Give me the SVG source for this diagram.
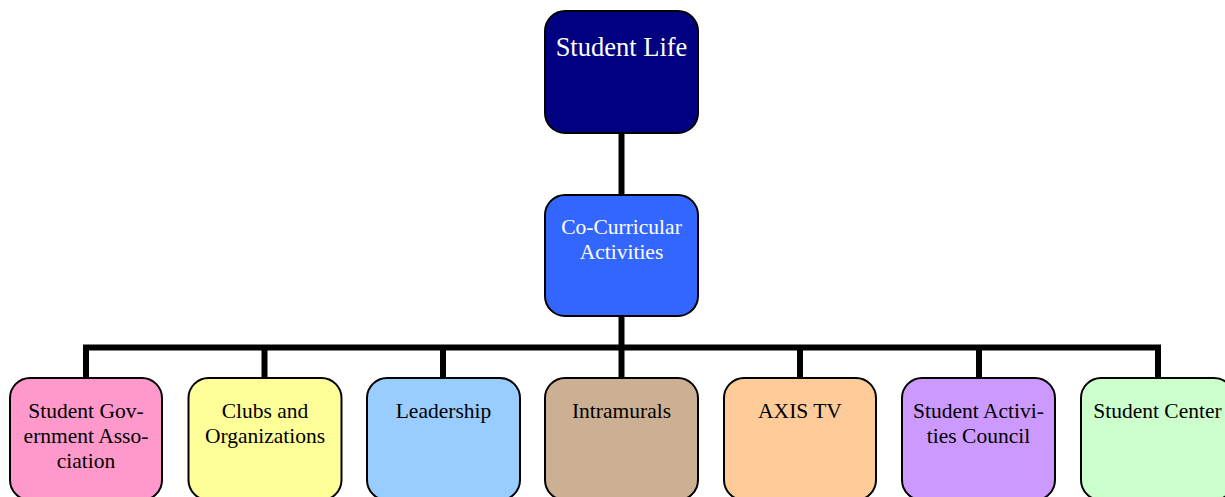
<svg xmlns="http://www.w3.org/2000/svg" width="1225" height="497" viewBox="0 0 1225 497">
<style>
.box{stroke:#000;stroke-width:2}
.t{font-family:"Liberation Serif","Times New Roman",serif;font-size:21.5px;text-anchor:middle;fill:#000}
.w{fill:#fff}
.big{font-size:26.5px}
.conn{stroke:#000;stroke-width:6;fill:none}
</style>
<rect width="1225" height="497" fill="#fff"/>
<g id="connectors">
<line class="conn" x1="621.5" y1="133" x2="621.5" y2="195"/>
<line class="conn" x1="621.5" y1="316" x2="621.5" y2="378"/>
<polyline class="conn" points="86,378 86,347.5 1158,347.5 1158,378"/>
<line class="conn" x1="264.5" y1="347" x2="264.5" y2="378"/>
<line class="conn" x1="443" y1="347" x2="443" y2="378"/>
<line class="conn" x1="800" y1="347" x2="800" y2="378"/>
<line class="conn" x1="979" y1="347" x2="979" y2="378"/>
</g>
<g id="student-life">
<rect class="box" x="545" y="11" width="153" height="122" rx="20" fill="#000080"/>
<text class="t w big" x="621.5" y="56">Student Life</text>
</g>
<g id="co-curricular">
<rect class="box" x="545" y="195" width="153" height="121" rx="20" fill="#3366FF"/>
<text class="t w" x="621.5" y="234">Co-Curricular</text>
<text class="t w" x="621.5" y="259">Activities</text>
</g>
<g id="sga">
<rect class="box" x="10" y="378" width="152" height="122" rx="20" fill="#FF99CC"/>
<text class="t" x="86" y="418">Student Gov-</text>
<text class="t" x="86" y="443">ernment Asso-</text>
<text class="t" x="86" y="468">ciation</text>
</g>
<g id="clubs">
<rect class="box" x="188.5" y="378" width="153" height="122" rx="20" fill="#FFFF99"/>
<text class="t" x="265" y="418">Clubs and</text>
<text class="t" x="265" y="443">Organizations</text>
</g>
<g id="leadership">
<rect class="box" x="367" y="378" width="153" height="122" rx="20" fill="#99CCFF"/>
<text class="t" x="443.5" y="418">Leadership</text>
</g>
<g id="intramurals">
<rect class="box" x="545" y="378" width="153" height="122" rx="20" fill="#CCB094"/>
<text class="t" x="621.5" y="418">Intramurals</text>
</g>
<g id="axis-tv">
<rect class="box" x="724" y="378" width="152" height="122" rx="20" fill="#FFCC99"/>
<text class="t" x="800" y="418">AXIS TV</text>
</g>
<g id="sac">
<rect class="box" x="902" y="378" width="153" height="122" rx="20" fill="#CC99FF"/>
<text class="t" x="978.5" y="418">Student Activi-</text>
<text class="t" x="978.5" y="443">ties Council</text>
</g>
<g id="student-center">
<rect class="box" x="1081" y="378" width="153" height="122" rx="20" fill="#CCFFCC"/>
<text class="t" x="1157.5" y="418">Student Center</text>
</g>
</svg>
